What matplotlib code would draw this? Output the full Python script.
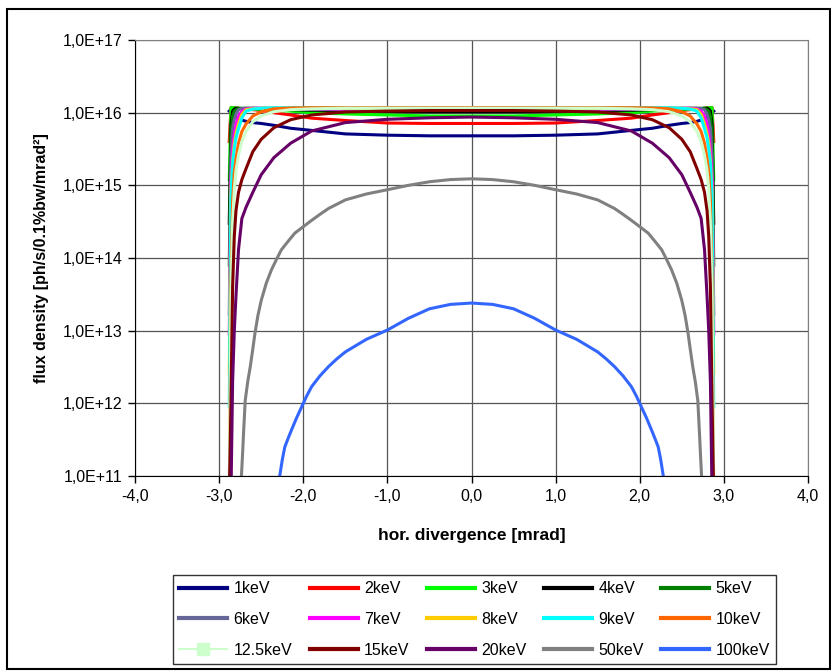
import matplotlib
matplotlib.use("Agg")
import matplotlib.pyplot as plt
from matplotlib.lines import Line2D
from matplotlib.patches import Rectangle
from matplotlib.ticker import FixedLocator, FuncFormatter, NullLocator
import numpy as np

plt.rcParams['font.family'] = ['Liberation Sans', 'DejaVu Sans']

# shared divergence grid (mrad) for 1 ... 20 keV
x_grid = [-2.88, -2.86, -2.84, -2.82, -2.8, -2.77, -2.73, -2.68, -2.6, -2.5, -2.35, -2.15, -1.9, -1.5, -1.0, -0.5,
          0.0,
          0.5, 1.0, 1.5, 1.9, 2.15, 2.35, 2.5, 2.6, 2.68, 2.73, 2.77, 2.8, 2.82, 2.84, 2.86, 2.88]

flux_1keV = [1.05e16, 1.0e16, 9.5e15, 9.0e15, 8.6e15, 8.2e15, 7.9e15, 7.6e15, 7.3e15, 7.1e15, 6.7e15, 6.1e15, 5.7e15, 5.1e15, 4.9e15, 4.8e15,
             4.8e15,
             4.8e15, 4.9e15, 5.1e15, 5.7e15, 6.1e15, 6.7e15, 7.1e15, 7.3e15, 7.6e15, 7.9e15, 8.2e15, 8.6e15, 9.0e15, 9.5e15, 1.0e16, 1.05e16]
flux_2keV = [4.0e15, 1.17e16, 1.18e16, 1.17e16, 1.16e16, 1.15e16, 1.13e16, 1.12e16, 1.1e16, 1.07e16, 1.0e16, 9.3e15, 8.4e15, 7.8e15, 7.2e15, 7.1e15,
             7.1e15,
             7.1e15, 7.2e15, 7.8e15, 8.4e15, 9.3e15, 1.0e16, 1.07e16, 1.1e16, 1.12e16, 1.13e16, 1.15e16, 1.16e16, 1.17e16, 1.18e16, 1.17e16, 4.0e15]
flux_3keV = [1.2e15, 1.17e16, 1.17e16, 1.17e16, 1.16e16, 1.15e16, 1.14e16, 1.13e16, 1.12e16, 1.1e16, 1.08e16, 1.05e16, 1.0e16, 9.6e15, 9.3e15, 9.0e15,
             9.0e15,
             9.0e15, 9.3e15, 9.6e15, 1.0e16, 1.05e16, 1.08e16, 1.1e16, 1.12e16, 1.13e16, 1.14e16, 1.15e16, 1.16e16, 1.17e16, 1.17e16, 1.17e16, 1.2e15]
flux_4keV = [3.0e14, 7.0e15, 1.05e16, 1.12e16, 1.15e16, 1.15e16, 1.14e16, 1.14e16, 1.14e16, 1.13e16, 1.12e16, 1.1e16, 1.08e16, 1.06e16, 1.04e16, 1.03e16,
             1.03e16,
             1.03e16, 1.04e16, 1.06e16, 1.08e16, 1.1e16, 1.12e16, 1.13e16, 1.14e16, 1.14e16, 1.14e16, 1.15e16, 1.15e16, 1.12e16, 1.05e16, 7.0e15, 3.0e14]
flux_5keV = [8.0e13, 5.0e15, 9.0e15, 1.05e16, 1.1e16, 1.14e16, 1.15e16, 1.15e16, 1.15e16, 1.14e16, 1.13e16, 1.12e16, 1.1e16, 1.09e16, 1.08e16, 1.08e16,
             1.08e16,
             1.08e16, 1.08e16, 1.09e16, 1.1e16, 1.12e16, 1.13e16, 1.14e16, 1.15e16, 1.15e16, 1.15e16, 1.14e16, 1.1e16, 1.05e16, 9.0e15, 5.0e15, 8.0e13]
flux_6keV = [1.7e13, 2.5e15, 6.0e15, 8.0e15, 9.5e15, 1.1e16, 1.14e16, 1.15e16, 1.15e16, 1.15e16, 1.14e16, 1.13e16, 1.12e16, 1.11e16, 1.1e16, 1.1e16,
             1.1e16,
             1.1e16, 1.1e16, 1.11e16, 1.12e16, 1.13e16, 1.14e16, 1.15e16, 1.15e16, 1.15e16, 1.14e16, 1.1e16, 9.5e15, 8.0e15, 6.0e15, 2.5e15, 1.7e13]
flux_7keV = [9.0e12, 1.2e15, 3.0e15, 5.0e15, 7.0e15, 9.0e15, 1.05e16, 1.12e16, 1.15e16, 1.15e16, 1.15e16, 1.14e16, 1.13e16, 1.12e16, 1.12e16, 1.12e16,
             1.12e16,
             1.12e16, 1.12e16, 1.12e16, 1.13e16, 1.14e16, 1.15e16, 1.15e16, 1.15e16, 1.12e16, 1.05e16, 9.0e15, 7.0e15, 5.0e15, 3.0e15, 1.2e15, 9.0e12]
flux_8keV = [2.6e12, 8.0e14, 2.2e15, 3.8e15, 5.2e15, 7.0e15, 9.5e15, 1.1e16, 1.13e16, 1.15e16, 1.16e16, 1.15e16, 1.15e16, 1.14e16, 1.14e16, 1.14e16,
             1.14e16,
             1.14e16, 1.14e16, 1.14e16, 1.15e16, 1.15e16, 1.16e16, 1.15e16, 1.13e16, 1.1e16, 9.5e15, 7.0e15, 5.2e15, 3.8e15, 2.2e15, 8.0e14, 2.6e12]
flux_9keV = [9.0e11, 7.0e14, 2.0e15, 3.2e15, 4.5e15, 6.0e15, 8.5e15, 1.05e16, 1.12e16, 1.15e16, 1.17e16, 1.17e16, 1.17e16, 1.17e16, 1.17e16, 1.17e16,
             1.17e16,
             1.17e16, 1.17e16, 1.17e16, 1.17e16, 1.17e16, 1.17e16, 1.15e16, 1.12e16, 1.05e16, 8.5e15, 6.0e15, 4.5e15, 3.2e15, 2.0e15, 7.0e14, 9.0e11]
flux_10keV = [5.0e10, 5.0e13, 6.0e14, 1.5e15, 2.3e15, 3.8e15, 5.5e15, 7.0e15, 9.0e15, 1.03e16, 1.13e16, 1.16e16, 1.17e16, 1.17e16, 1.17e16, 1.17e16,
              1.17e16,
              1.17e16, 1.17e16, 1.17e16, 1.17e16, 1.16e16, 1.13e16, 1.03e16, 9.0e15, 7.0e15, 5.5e15, 3.8e15, 2.3e15, 1.5e15, 6.0e14, 5.0e13, 5.0e10]
flux_12_5keV = [5.0e10, 3.0e13, 3.0e14, 9.0e14, 1.6e15, 2.6e15, 4.0e15, 5.5e15, 7.5e15, 9.0e15, 1.03e16, 1.1e16, 1.13e16, 1.15e16, 1.15e16, 1.15e16,
                1.15e16,
                1.15e16, 1.15e16, 1.15e16, 1.13e16, 1.1e16, 1.03e16, 9.0e15, 7.5e15, 5.5e15, 4.0e15, 2.6e15, 1.6e15, 9.0e14, 3.0e14, 3.0e13, 5.0e10]
flux_15keV = [5.0e10, 1.0e12, 4.0e13, 2.0e14, 4.5e14, 8.0e14, 1.2e15, 1.7e15, 2.9e15, 4.3e15, 6.2e15, 8.0e15, 9.3e15, 1.02e16, 1.05e16, 1.07e16,
              1.07e16,
              1.07e16, 1.05e16, 1.02e16, 9.3e15, 8.0e15, 6.2e15, 4.3e15, 2.9e15, 1.7e15, 1.2e15, 8.0e14, 4.5e14, 2.0e14, 4.0e13, 1.0e12, 5.0e10]
flux_20keV = [np.nan, 5.0e10, 2.0e12, 1.0e13, 3.0e13, 1.3e14, 3.5e14, 5.0e14, 8.0e14, 1.4e15, 2.4e15, 3.8e15, 5.6e15, 7.3e15, 8.1e15, 8.5e15,
              8.7e15,
              8.5e15, 8.1e15, 7.3e15, 5.6e15, 3.8e15, 2.4e15, 1.4e15, 8.0e14, 5.0e14, 3.5e14, 1.3e14, 3.0e13, 1.0e13, 2.0e12, 5.0e10, np.nan]

x_50keV = [-2.75, -2.735, -2.72, -2.71, -2.69, -2.66, -2.63, -2.6, -2.575, -2.54, -2.5, -2.44, -2.38, -2.32, -2.26,
           -2.18, -2.1, -2.0, -1.9, -1.8, -1.7, -1.5, -1.25, -1.0, -0.75, -0.5, -0.25,
           0.0,
           0.25, 0.5, 0.75, 1.0, 1.25, 1.5, 1.7, 1.8, 1.9, 2.0, 2.1, 2.18,
           2.26, 2.32, 2.38, 2.44, 2.5, 2.54, 2.575, 2.6, 2.63, 2.66, 2.69, 2.71, 2.72, 2.735, 2.75]
flux_50keV = [5.0e10, 1.0e11, 2.2e11, 3.9e11, 1.1e12, 2.0e12, 3.2e12, 5.6e12, 9.1e12, 1.6e13, 2.6e13, 4.5e13, 6.8e13, 9.5e13, 1.3e14,
              1.7e14, 2.2e14, 2.7e14, 3.3e14, 4.0e14, 4.8e14, 6.3e14, 7.6e14, 8.7e14, 1.0e15, 1.12e15, 1.2e15,
              1.23e15,
              1.2e15, 1.12e15, 1.0e15, 8.7e14, 7.6e14, 6.3e14, 4.8e14, 4.0e14, 3.3e14, 2.7e14, 2.2e14, 1.7e14,
              1.3e14, 9.5e13, 6.8e13, 4.5e13, 2.6e13, 1.6e13, 9.1e12, 5.6e12, 3.2e12, 2.0e12, 1.1e12, 3.9e11, 2.2e11, 1.0e11, 5.0e10]

x_100keV = [-2.3, -2.28, -2.25, -2.22, -2.18, -2.14, -2.08, -2.02, -1.96, -1.9, -1.8, -1.7, -1.6, -1.5, -1.25,
            -1.0, -0.75, -0.5, -0.25,
            0.0,
            0.25, 0.5, 0.75, 1.0,
            1.25, 1.5, 1.6, 1.7, 1.8, 1.9, 1.96, 2.02, 2.08, 2.14, 2.18, 2.22, 2.25, 2.28, 2.3]
flux_100keV = [5.0e10, 1.0e11, 1.66e11, 2.5e11, 3.3e11, 4.3e11, 6.3e11, 8.9e11, 1.26e12, 1.7e12, 2.4e12, 3.2e12, 4.1e12, 5.1e12, 7.6e12,
               1.02e13, 1.48e13, 2.0e13, 2.3e13,
               2.4e13,
               2.3e13, 2.0e13, 1.48e13, 1.02e13,
               7.6e12, 5.1e12, 4.1e12, 3.2e12, 2.4e12, 1.7e12, 1.26e12, 8.9e11, 6.3e11, 4.3e11, 3.3e11, 2.5e11, 1.66e11, 1.0e11, 5.0e10]

labels = ['1keV', '2keV', '3keV', '4keV', '5keV', '6keV', '7keV', '8keV', '9keV', '10keV',
          '12.5keV', '15keV', '20keV', '50keV', '100keV']
colors = ['#000080', '#FF0000', '#00FF00', '#000000', '#008000', '#666699', '#FF00FF', '#FFCC00', '#00FFFF', '#FF6600',
          '#CCFFCC', '#800000', '#660066', '#808080', '#3366FF']

series = [(x_grid, flux_1keV), (x_grid, flux_2keV), (x_grid, flux_3keV), (x_grid, flux_4keV), (x_grid, flux_5keV),
          (x_grid, flux_6keV), (x_grid, flux_7keV), (x_grid, flux_8keV), (x_grid, flux_9keV), (x_grid, flux_10keV),
          (x_grid, flux_12_5keV), (x_grid, flux_15keV), (x_grid, flux_20keV), (x_50keV, flux_50keV),
          (x_100keV, flux_100keV)]

fig = plt.figure(figsize=(8.31, 6.71), dpi=100)
ax = fig.add_axes([0.1625, 0.2906, 0.8098, 0.6498])

handles = []
for (xs, ys), lab, col in zip(series, labels, colors):
    ax.plot(xs, ys, color=col, lw=2.2, label=lab)
    if lab == '12.5keV':
        handles.append(Line2D([], [], color=col, lw=1.5, marker='s', markersize=8))
    else:
        handles.append(Line2D([], [], color=col, lw=3))

ax.set_yscale('log')
ax.set_xlim(-4, 4)
ax.set_ylim(1e11, 1e17)

ax.xaxis.set_major_locator(FixedLocator(np.arange(-4, 4.5, 1.0)))
ax.xaxis.set_major_formatter(FuncFormatter(lambda v, p: f"{v:.1f}".replace('.', ',')))
ax.yaxis.set_major_locator(FixedLocator([10.0 ** e for e in range(11, 18)]))
ax.yaxis.set_major_formatter(FuncFormatter(lambda v, p: f"1,0E+{int(round(np.log10(v)))}"))
ax.yaxis.set_minor_locator(NullLocator())
ax.xaxis.set_minor_locator(NullLocator())

ax.grid(True, color='#555555', lw=0.9)
ax.set_axisbelow(True)
ax.tick_params(direction='out', length=5, width=1, labelsize=11.5, pad=4, color='black')
for s in ['top', 'right']:
    ax.spines[s].set_color('#808080')
for s in ['left', 'bottom']:
    ax.spines[s].set_color('black')

ax.set_xlabel('hor. divergence [mrad]', fontsize=12.5, fontweight='bold')
ax.set_ylabel('flux density [ph/s/0.1%bw/mrad²]', fontsize=11.5, fontweight='bold')
ax.xaxis.set_label_coords(0.5, -0.12)
ax.yaxis.set_label_coords(-0.128, 0.5)

# legend filled row by row like the original
order = [r * 5 + c for c in range(5) for r in range(3)]
leg = fig.legend([handles[i] for i in order], [labels[i] for i in order], ncol=5,
                 loc='center', bbox_to_anchor=(0.571, 0.0767), fontsize=11.5,
                 frameon=True, fancybox=False, edgecolor='black', handlelength=3.0,
                 handletextpad=0.4, columnspacing=1.1, labelspacing=0.98, borderpad=0.4)
leg.get_frame().set_linewidth(1.0)

fig.patches.append(Rectangle((0.0084, 0.003), 0.990, 0.9836, transform=fig.transFigure,
                             fill=False, lw=1.5, ec='black'))

fig.savefig('out.png', dpi=100)
